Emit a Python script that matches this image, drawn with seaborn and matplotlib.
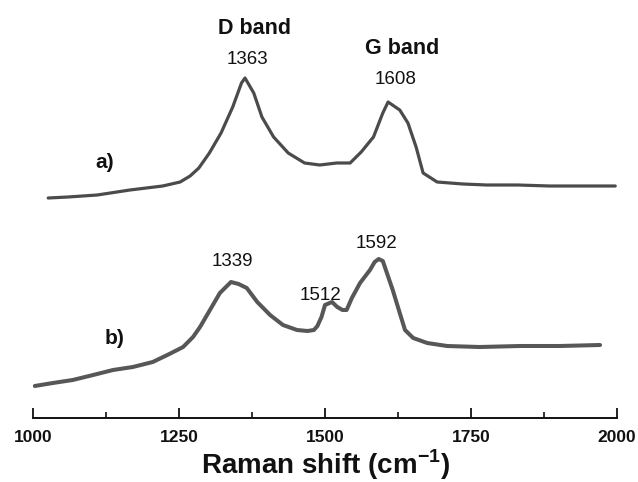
import matplotlib
matplotlib.use("Agg")
import matplotlib.pyplot as plt
from matplotlib.ticker import MultipleLocator
import seaborn as sns
import pandas as pd

# Raman spectrum a): wavenumber (cm-1) and intensity (a.u.)
shift_a = [1026, 1060, 1110, 1166, 1222, 1252, 1269, 1284, 1302, 1322, 1342, 1357, 1363,
           1378, 1392, 1412, 1437, 1465, 1491, 1520, 1543, 1562, 1583, 1599, 1608, 1628,
           1642, 1656, 1668, 1692, 1736, 1777, 1830, 1885, 1940, 1997]
intensity_a = [220, 221, 223, 228, 232, 236, 242, 250, 265, 285, 311, 335, 340,
               325, 301, 281, 265, 255, 253, 255, 255, 266, 281, 305, 316, 308,
               295, 271, 245, 236, 234, 233, 233, 232, 232, 232]

# Raman spectrum b)
shift_b = [1003, 1034, 1068, 1103, 1137, 1171, 1205, 1230, 1247, 1257, 1274, 1286, 1303,
           1320, 1339, 1352, 1366, 1384, 1406, 1428, 1452, 1470, 1481, 1487, 1494, 1500,
           1512, 1521, 1530, 1537, 1546, 1560, 1577, 1585, 1592, 1599, 1606, 1616, 1628,
           1637, 1651, 1675, 1709, 1765, 1834, 1902, 1971]
intensity_b = [32, 35, 38, 43, 48, 51, 56, 63, 68, 71, 81, 91, 108,
               125, 136, 134, 130, 116, 103, 93, 88, 87, 88, 92, 101, 113,
               116, 111, 108, 108, 120, 135, 148, 156, 159, 157, 145, 128, 105,
               88, 80, 75, 72, 71, 72, 72, 73]

# Peak positions annotated on each spectrum
peaks_a = [1363, 1608]
peaks_b = [1339, 1512, 1592]
band_names = ["D band", "G band"]
xticks = [1000, 1250, 1500, 1750, 2000]

sns.set_theme(style="white")
plt.rcParams["font.family"] = ["Liberation Sans", "DejaVu Sans"]
plt.rcParams["mathtext.fontset"] = "custom"
plt.rcParams["mathtext.rm"] = "Liberation Sans:bold"
plt.rcParams["mathtext.bf"] = "Liberation Sans:bold"
plt.rcParams["xtick.direction"] = "in"
plt.rcParams["xtick.bottom"] = True

df_a = pd.DataFrame({"shift": shift_a, "intensity": intensity_a})
df_b = pd.DataFrame({"shift": shift_b, "intensity": intensity_b})

fig = plt.figure(figsize=(6.38, 4.82), dpi=100)
ax = fig.add_axes([33 / 638, 64 / 482, 584 / 638, 408 / 482])

sns.lineplot(data=df_a, x="shift", y="intensity", ax=ax, color="#4b4b4b",
             linewidth=2.3, sort=False)
sns.lineplot(data=df_b, x="shift", y="intensity", ax=ax, color="#575757",
             linewidth=2.9, sort=False)

ax.set_xlim(1000, 2000)
ax.set_ylim(0, 408)

# peak labels (value, text height, horizontal nudge)
label_y_a = [358, 338]
nudge_a = [4, 12]
for p, y, dx in zip(peaks_a, label_y_a, nudge_a):
    ax.text(p + dx, y, f"{p}", ha="center", va="center", fontsize=13.5, color="#111111")
label_y_b = [156, 123, 174]
nudge_b = [3, -20, -4]
for p, y, dx in zip(peaks_b, label_y_b, nudge_b):
    ax.text(p + dx, y, f"{p}", ha="center", va="center", fontsize=13.5, color="#111111")

band_pos = [(1380, 390), (1632, 370)]
for name, (bx, by) in zip(band_names, band_pos):
    ax.text(bx, by, name, ha="center", va="center", fontsize=15.5,
            fontweight="bold", color="#111111")

ax.text(1122, 255, "a)", ha="center", va="center", fontsize=15,
        fontweight="bold", color="#111111")
ax.text(1140, 80, "b)", ha="center", va="center", fontsize=15,
        fontweight="bold", color="#111111")

# axes styling: only a bottom axis with inward ticks
for side in ["left", "right", "top"]:
    ax.spines[side].set_visible(False)
ax.spines["bottom"].set_color("#111111")
ax.spines["bottom"].set_linewidth(1.4)
ax.set_yticks([])
ax.set_xticks(xticks)
ax.xaxis.set_minor_locator(MultipleLocator(125))
ax.tick_params(axis="x", which="major", direction="in", length=7, width=1.3,
               color="#111111", pad=9, labelsize=12.5, labelcolor="#111111",
               bottom=True)
ax.tick_params(axis="x", which="minor", direction="in", length=4.5, width=1.2,
               color="#111111", bottom=True)
for lbl in ax.get_xticklabels():
    lbl.set_fontweight("bold")

ax.set_ylabel("")
ax.set_xlabel(r"Raman shift (cm$^{-1}$)", fontsize=20, fontweight="bold",
              color="#111111", labelpad=1.5)

fig.savefig("out.png", dpi=100)
